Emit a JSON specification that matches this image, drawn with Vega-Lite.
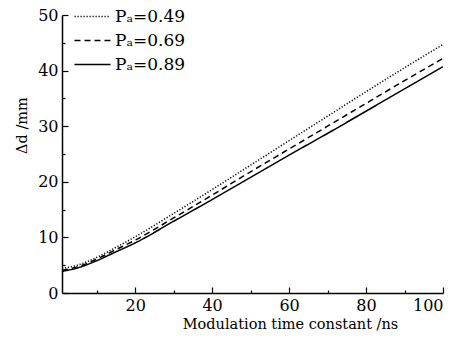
{
  "$schema": "https://vega.github.io/schema/vega-lite/v6.json",
  "autosize": "none",
  "width": 381,
  "height": 278,
  "padding": {"left": 62, "top": 15, "right": 18, "bottom": 52},
  "background": "white",
  "config": {
    "view": {"stroke": null},
    "font": "DejaVu Serif",
    "axis": {"grid": false, "domainColor": "black", "tickColor": "black", "labelColor": "black", "titleColor": "black", "labelFont": "DejaVu Serif", "titleFont": "DejaVu Serif", "labelFontSize": 16, "titleFontSize": 14.5, "titleFontWeight": "normal", "domainWidth": 1.5, "tickWidth": 1.2}
  },
  "data": {"values": [
    {"x": 1, "y": 4.4, "s": "Pₐ=0.49"}, {"x": 5, "y": 5.0, "s": "Pₐ=0.49"}, {"x": 10, "y": 6.4, "s": "Pₐ=0.49"}, {"x": 15, "y": 8.2, "s": "Pₐ=0.49"}, {"x": 20, "y": 10.1, "s": "Pₐ=0.49"}, {"x": 30, "y": 14.3, "s": "Pₐ=0.49"}, {"x": 40, "y": 18.6, "s": "Pₐ=0.49"}, {"x": 50, "y": 23.0, "s": "Pₐ=0.49"}, {"x": 60, "y": 27.4, "s": "Pₐ=0.49"}, {"x": 70, "y": 31.8, "s": "Pₐ=0.49"}, {"x": 80, "y": 36.2, "s": "Pₐ=0.49"}, {"x": 90, "y": 40.5, "s": "Pₐ=0.49"}, {"x": 100, "y": 44.7, "s": "Pₐ=0.49"},
    {"x": 1, "y": 4.1, "s": "Pₐ=0.69"}, {"x": 5, "y": 4.7, "s": "Pₐ=0.69"}, {"x": 10, "y": 6.1, "s": "Pₐ=0.69"}, {"x": 15, "y": 7.8, "s": "Pₐ=0.69"}, {"x": 20, "y": 9.5, "s": "Pₐ=0.69"}, {"x": 30, "y": 13.5, "s": "Pₐ=0.69"}, {"x": 40, "y": 17.6, "s": "Pₐ=0.69"}, {"x": 50, "y": 21.8, "s": "Pₐ=0.69"}, {"x": 60, "y": 25.9, "s": "Pₐ=0.69"}, {"x": 70, "y": 30.0, "s": "Pₐ=0.69"}, {"x": 80, "y": 34.1, "s": "Pₐ=0.69"}, {"x": 90, "y": 38.2, "s": "Pₐ=0.69"}, {"x": 100, "y": 42.2, "s": "Pₐ=0.69"},
    {"x": 1, "y": 3.9, "s": "Pₐ=0.89"}, {"x": 5, "y": 4.5, "s": "Pₐ=0.89"}, {"x": 10, "y": 5.8, "s": "Pₐ=0.89"}, {"x": 15, "y": 7.4, "s": "Pₐ=0.89"}, {"x": 20, "y": 9.0, "s": "Pₐ=0.89"}, {"x": 30, "y": 12.9, "s": "Pₐ=0.89"}, {"x": 40, "y": 16.8, "s": "Pₐ=0.89"}, {"x": 50, "y": 20.8, "s": "Pₐ=0.89"}, {"x": 60, "y": 24.8, "s": "Pₐ=0.89"}, {"x": 70, "y": 28.7, "s": "Pₐ=0.89"}, {"x": 80, "y": 32.7, "s": "Pₐ=0.89"}, {"x": 90, "y": 36.7, "s": "Pₐ=0.89"}, {"x": 100, "y": 40.7, "s": "Pₐ=0.89"}
  ]},
  "mark": {"type": "line", "interpolate": "monotone", "strokeWidth": 1.5, "clip": true},
  "encoding": {
    "x": {"field": "x", "type": "quantitative", "scale": {"domain": [1, 100], "nice": false, "zero": false},
      "axis": {"title": "Modulation time constant /ns", "titleX": 228, "titleAnchor": "middle", "values": [10, 20, 30, 40, 50, 60, 70, 80, 90, 100], "labelExpr": "datum.value % 20 === 0 ? datum.label : ''", "tickSize": {"condition": {"test": "datum.value % 20 === 0", "value": -6}, "value": -3}, "labelPadding": 10, "titlePadding": 4}},
    "y": {"field": "y", "type": "quantitative", "scale": {"domain": [0, 50], "nice": false},
      "axis": {"title": "Δd /mm", "titleY": 110, "titleAnchor": "middle", "titleBaseline": "bottom", "values": [0, 5, 10, 15, 20, 25, 30, 35, 40, 45, 50], "labelExpr": "datum.value % 10 === 0 ? datum.label : ''", "tickSize": {"condition": {"test": "datum.value % 10 === 0", "value": -6}, "value": -3}, "labelPadding": 10, "titlePadding": 8}},
    "color": {"field": "s", "type": "nominal", "scale": {"range": ["black", "black", "black"]},
      "legend": {"title": null, "orient": "none", "legendX": 22, "legendY": -7, "symbolType": "M-3,0H3", "symbolSize": 144, "symbolStrokeWidth": 1.5, "symbolFillColor": "transparent", "labelFont": "DejaVu Serif", "labelFontSize": 17, "labelColor": "black", "rowPadding": 6, "labelOffset": 14}},
    "strokeDash": {"field": "s", "type": "nominal", "scale": {"range": [[1.2, 1.8], [6, 4], [1, 0]]}}
  }
}
